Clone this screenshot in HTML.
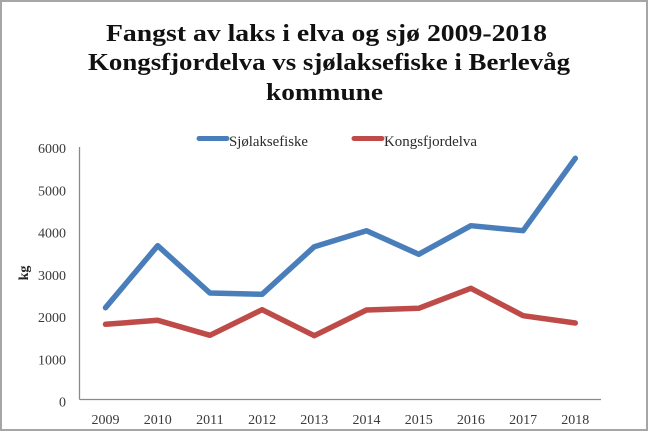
<!DOCTYPE html>
<html>
<head>
<meta charset="utf-8">
<style>
  html, body { margin: 0; padding: 0; background: #ffffff; }
  svg { display: block; }
  .t { font-family: "Liberation Serif", serif; font-weight: bold; fill: #111; font-size: 24px; }
  .lab { font-family: "Liberation Serif", serif; font-size: 14px; fill: #3a3a3a; }
  .leg { font-family: "Liberation Serif", serif; font-size: 14.5px; fill: #2a2a2a; }
</style>
</head>
<body>
<svg width="650" height="435" viewBox="0 0 650 435" xmlns="http://www.w3.org/2000/svg">
  <rect x="0" y="0" width="650" height="435" fill="#ffffff"/>
  <rect x="1" y="1" width="646" height="429" fill="#ffffff" stroke="#a6a6a6" stroke-width="2"/>

  <!-- Title -->
  <text class="t" x="106" y="41" textLength="441" lengthAdjust="spacingAndGlyphs">Fangst av laks i elva og sjø 2009-2018</text>
  <text class="t" x="88" y="70" textLength="482" lengthAdjust="spacingAndGlyphs">Kongsfjordelva vs sjølaksefiske i Berlevåg</text>
  <text class="t" x="266" y="100" textLength="117" lengthAdjust="spacingAndGlyphs">kommune</text>

  <!-- Legend -->
  <line x1="199" y1="138.5" x2="227" y2="138.5" stroke="#4A7EBB" stroke-width="5" stroke-linecap="round"/>
  <text class="leg" x="229" y="146" textLength="79" lengthAdjust="spacingAndGlyphs">Sjølaksefiske</text>
  <line x1="354" y1="138.5" x2="382" y2="138.5" stroke="#BE4B48" stroke-width="5" stroke-linecap="round"/>
  <text class="leg" x="384" y="146" textLength="93" lengthAdjust="spacingAndGlyphs">Kongsfjordelva</text>

  <!-- Axes -->
  <line x1="79.5" y1="147" x2="79.5" y2="399.5" stroke="#8a8a8a" stroke-width="1.3"/>
  <line x1="79.5" y1="399.5" x2="601" y2="399.5" stroke="#8a8a8a" stroke-width="1.3"/>

  <!-- Y tick labels -->
  <g class="lab" text-anchor="end">
    <text x="66" y="406.5">0</text>
    <text x="66" y="364.3">1000</text>
    <text x="66" y="322">2000</text>
    <text x="66" y="279.8">3000</text>
    <text x="66" y="237.5">4000</text>
    <text x="66" y="195.3">5000</text>
    <text x="66" y="153">6000</text>
  </g>

  <!-- Y axis title -->
  <text x="0" y="0" transform="translate(28,273) rotate(-90)" text-anchor="middle" font-family="Liberation Serif, serif" font-weight="bold" font-size="14" fill="#222">kg</text>

  <!-- X tick labels -->
  <g class="lab" text-anchor="middle">
    <text x="105.5" y="424">2009</text>
    <text x="157.7" y="424">2010</text>
    <text x="209.9" y="424">2011</text>
    <text x="262.1" y="424">2012</text>
    <text x="314.3" y="424">2013</text>
    <text x="366.5" y="424">2014</text>
    <text x="418.7" y="424">2015</text>
    <text x="470.9" y="424">2016</text>
    <text x="523.1" y="424">2017</text>
    <text x="575.3" y="424">2018</text>
  </g>

  <!-- Series -->
  <polyline fill="none" stroke="#4A7EBB" stroke-width="5.5" stroke-linejoin="round" stroke-linecap="round"
    points="105.5,307.7 157.7,245.7 209.9,293 262.1,294.3 314.3,246.7 366.5,230.7 418.7,254.3 470.9,225.7 523.1,230.7 575.3,158.3"/>
  <polyline fill="none" stroke="#BE4B48" stroke-width="5.5" stroke-linejoin="round" stroke-linecap="round"
    points="105.5,324.3 157.7,320.3 209.9,335.3 262.1,309.7 314.3,335.7 366.5,310 418.7,308.3 470.9,288.3 523.1,315.7 575.3,323"/>
</svg>
</body>
</html>
